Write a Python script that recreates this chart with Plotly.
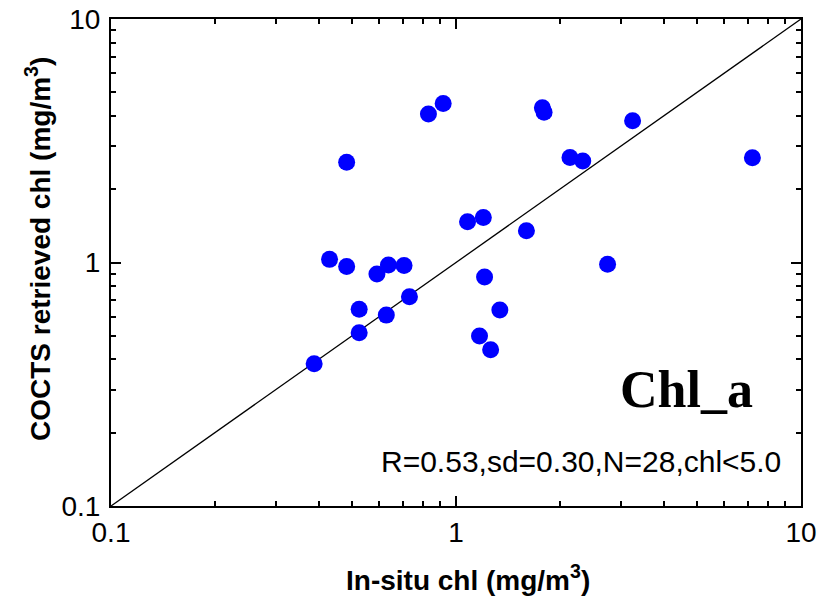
import plotly.graph_objects as go

# In-situ vs. COCTS retrieved chlorophyll (mg/m^3)
insitu_chl = [0.482, 0.430, 0.482, 0.590, 0.637, 0.707, 0.733, 0.524, 0.524,
              0.628, 0.388, 0.832, 0.918, 1.78, 1.80, 3.25, 2.14, 2.33, 7.23,
              1.08, 1.20, 1.60, 2.75, 1.21, 1.34, 1.17, 1.26]
cocts_chl = [2.58, 1.03, 0.962, 0.897, 0.977, 0.973, 0.724, 0.643, 0.515,
             0.608, 0.384, 4.07, 4.50, 4.32, 4.14, 3.82, 2.70, 2.61, 2.69,
             1.47, 1.53, 1.35, 0.983, 0.871, 0.638, 0.499, 0.438]

one_to_one = [0.1, 10]
major_ticks = [0.1, 1, 10]
major_labels = ["0.1", "1", "10"]
minor_ticks = [m * d for d in (0.1, 1) for m in range(2, 10)]

stats_text = "R=0.53,sd=0.30,N=28,chl<5.0"
panel_label = "Chl_a"
x_title = "In-situ chl (mg/m<sup>3</sup>)"
y_title = "COCTS retrieved chl (mg/m<sup>3</sup>)"

SANS = "Liberation Sans, Arial, sans-serif"
SERIF = "Liberation Serif, Times New Roman, serif"

fig = go.Figure()
fig.add_trace(go.Scatter(x=one_to_one, y=one_to_one, mode="lines",
                         line=dict(color="black", width=1.3),
                         hoverinfo="skip", showlegend=False))
fig.add_trace(go.Scatter(x=insitu_chl, y=cocts_chl, mode="markers",
                         marker=dict(size=17, color="#0000ff", line=dict(width=0)),
                         showlegend=False))

axis_common = dict(
    type="log", range=[-1, 1], automargin=False,
    tickmode="array", tickvals=major_ticks, ticktext=major_labels,
    ticks="inside", ticklen=10, tickwidth=1.5, tickcolor="black",
    minor=dict(tickmode="array", tickvals=minor_ticks, ticks="inside",
               ticklen=5, tickwidth=1.5, tickcolor="black", showgrid=False),
    showline=True, linewidth=2, linecolor="black", mirror="ticks",
    showgrid=False, zeroline=False,
    tickfont=dict(family=SANS, size=28, color="black"),
)

fig.update_xaxes(**axis_common)
fig.update_yaxes(**axis_common, ticklabelstandoff=3)

fig.update_layout(
    width=829, height=597,
    margin=dict(l=111, r=28, t=19, b=91),
    plot_bgcolor="white", paper_bgcolor="white",
    font=dict(family=SANS, color="black"),
    annotations=[
        dict(text=panel_label, xref="paper", yref="paper",
             x=(686 - 111) / 690, y=(506 - 389) / 487,
             xanchor="center", yanchor="middle", showarrow=False,
             font=dict(family=SERIF, size=52, color="black", weight="bold")),
        dict(text=stats_text, xref="paper", yref="paper",
             x=(783 - 111) / 690, y=(506 - 461) / 487,
             xanchor="right", yanchor="middle", showarrow=False,
             font=dict(family=SANS, size=30, color="black")),
        dict(text="<b>" + x_title + "</b>", xref="paper", yref="paper",
             x=(468 - 111) / 690, y=-(578 - 506) / 487,
             xanchor="center", yanchor="middle", showarrow=False,
             font=dict(family=SANS, size=28, color="black")),
        dict(text="<b>" + y_title + "</b>", xref="paper", yref="paper",
             x=-(111 - 38) / 690, y=(506 - 249) / 487, textangle=-90,
             xanchor="center", yanchor="middle", showarrow=False,
             font=dict(family=SANS, size=28, color="black")),
    ],
)

fig.write_html("out.html")
